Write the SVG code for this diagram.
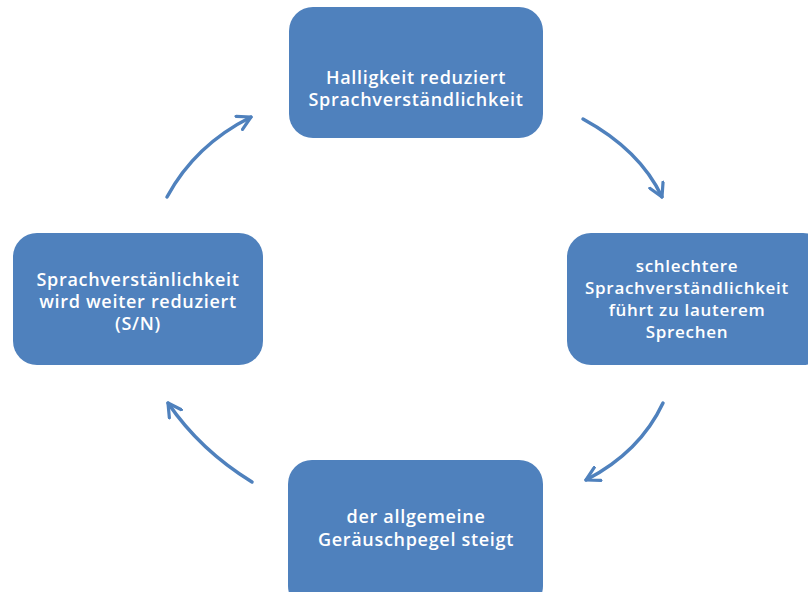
<svg xmlns="http://www.w3.org/2000/svg" width="808" height="592" viewBox="0 0 808 592">
<defs>
<style>
.box{fill:#4F81BD;}
.t{fill:#fff;font-family:"Open Sans","Liberation Sans",sans-serif;font-weight:600;font-size:18px;letter-spacing:0.7px;text-anchor:middle;}
.s{font-size:17px;}
.c{fill:none;stroke:#4F81BD;stroke-width:3.5;stroke-linecap:round;}
</style>
<marker id="ah" viewBox="0 0 12 12" refX="10" refY="6" markerWidth="5" markerHeight="5" orient="auto" markerUnits="strokeWidth">
<path d="M1,1 L10,6 L1,11" fill="none" stroke="#4F81BD" stroke-width="2.2" stroke-linecap="round" stroke-linejoin="round"/>
</marker>
</defs>
<rect width="808" height="592" fill="#fff"/>
<g id="n1"><rect class="box" x="289" y="7" width="254" height="131" rx="24"/>
<text class="t" x="416" y="84">Halligkeit reduziert</text>
<text class="t" x="416" y="106">Sprachverständlichkeit</text></g>
<g id="n2"><rect class="box" x="567" y="233" width="260" height="132" rx="24"/>
<text class="t s" x="687" y="272">schlechtere</text>
<text class="t s" x="687" y="294">Sprachverständlichkeit</text>
<text class="t s" x="687" y="316">führt zu lauterem</text>
<text class="t s" x="687" y="338">Sprechen</text></g>
<g id="n3"><rect class="box" x="288" y="460" width="255" height="150" rx="24"/>
<text class="t" x="416" y="523">der allgemeine</text>
<text class="t" x="416" y="546">Geräuschpegel steigt</text></g>
<g id="n4"><rect class="box" x="13" y="233" width="250" height="132" rx="24"/>
<text class="t" x="138" y="286">Sprachverstänlichkeit</text>
<text class="t" x="138" y="308">wird weiter reduziert</text>
<text class="t" x="138" y="330">(S/N)</text></g>
<g id="connectors">
<path class="c" marker-end="url(#ah)" d="M583,119 Q640,150 662,197"/>
<path class="c" marker-end="url(#ah)" d="M663,403 Q640,452 586,480"/>
<path class="c" marker-end="url(#ah)" d="M252,482 Q200,450 168,403"/>
<path class="c" marker-end="url(#ah)" d="M167,197 Q195,145 251,117"/>
</g>
</svg>
